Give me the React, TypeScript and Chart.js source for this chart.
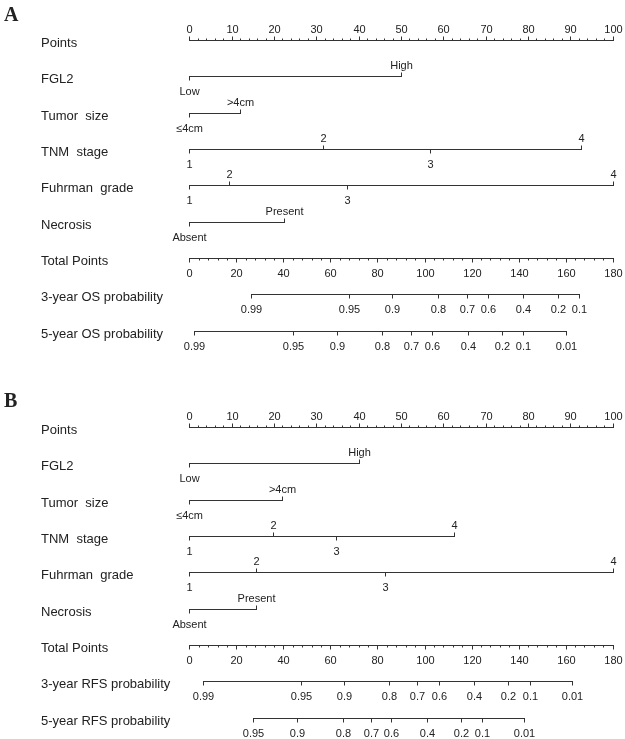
import React, { useEffect, useRef } from 'react';
import { Chart, registerables } from 'chart.js';
Chart.register(...registerables);

// ---------- data ----------
const pointsTickLabels = [0, 10, 20, 30, 40, 50, 60, 70, 80, 90, 100];
const pointsMinorStep = 2;
const totalTickLabels = [0, 20, 40, 60, 80, 100, 120, 140, 160, 180];
const totalMinorStep = 4;

const rowNamesA = ['Points', 'FGL2', 'Tumor  size', 'TNM  stage', 'Fuhrman  grade', 'Necrosis', 'Total Points', '3-year OS probability', '5-year OS probability'];
const rowNamesB = ['Points', 'FGL2', 'Tumor  size', 'TNM  stage', 'Fuhrman  grade', 'Necrosis', 'Total Points', '3-year RFS probability', '5-year RFS probability'];

const levelsFGL2 = ['Low', 'High'];
const levelsTumor = ['≤4cm', '>4cm'];
const levelsStage = ['1', '2', '3', '4'];
const levelsGrade = ['1', '2', '3', '4'];
const levelsNecrosis = ['Absent', 'Present'];

// Panel A (OS) points per level
const ptsFGL2A = [0, 50];
const ptsTumorA = [0, 12];
const ptsStageA = [0, 31.5, 56.8, 92.4];
const ptsGradeA = [0, 9.4, 37.3, 100];
const ptsNecrosisA = [0, 22.3];

// Panel B (RFS) points per level
const ptsFGL2B = [0, 40];
const ptsTumorB = [0, 21.8];
const ptsStageB = [0, 19.7, 34.6, 62.4];
const ptsGradeB = [0, 15.8, 46.2, 100];
const ptsNecrosisB = [0, 15.8];

// probability scales (total points where each probability sits)
const probLabelsOS3 = ['0.99', '0.95', '0.9', '0.8', '0.7', '0.6', '0.4', '0.2', '0.1'];
const totalOS3 = [26.1, 67.9, 86.3, 105.9, 118.2, 127.1, 142.0, 156.6, 165.8];
const probLabelsOS5 = ['0.99', '0.95', '0.9', '0.8', '0.7', '0.6', '0.4', '0.2', '0.1', '0.01'];
const totalOS5 = [2.1, 44.2, 62.7, 82.0, 94.3, 103.3, 118.6, 132.8, 142.0, 160.1];
const probLabelsRFS3 = ['0.99', '0.95', '0.9', '0.8', '0.7', '0.6', '0.4', '0.2', '0.1', '0.01'];
const totalRFS3 = [5.7, 47.4, 65.8, 85.0, 96.9, 106.2, 121.2, 135.6, 144.8, 162.6];
const probLabelsRFS5 = ['0.95', '0.9', '0.8', '0.7', '0.6', '0.4', '0.2', '0.1', '0.01'];
const totalRFS5 = [27.2, 45.9, 65.2, 77.1, 85.9, 101.2, 115.5, 124.6, 142.4];

// ---------- layout ----------
const W = 625;
const H = 739;
const PANEL_B_ROW_OFFSET = 10.644;
const LINE = '#333333';
const TEXT = '#222222';
const SANS = '"Liberation Sans", Arial, sans-serif';

const panels = [
  {
    title: 'A',
    offset: 0,
    names: rowNamesA,
    predictors: [
      [levelsFGL2, ptsFGL2A],
      [levelsTumor, ptsTumorA],
      [levelsStage, ptsStageA],
      [levelsGrade, ptsGradeA],
      [levelsNecrosis, ptsNecrosisA],
    ],
    probs: [
      [probLabelsOS3, totalOS3],
      [probLabelsOS5, totalOS5],
    ],
  },
  {
    title: 'B',
    offset: PANEL_B_ROW_OFFSET,
    names: rowNamesB,
    predictors: [
      [levelsFGL2, ptsFGL2B],
      [levelsTumor, ptsTumorB],
      [levelsStage, ptsStageB],
      [levelsGrade, ptsGradeB],
      [levelsNecrosis, ptsNecrosisB],
    ],
    probs: [
      [probLabelsRFS3, totalRFS3],
      [probLabelsRFS5, totalRFS5],
    ],
  },
];

const nomogramPlugin = {
  id: 'nomogram',
  afterDraw(chart: any) {
    const ctx = chart.ctx as CanvasRenderingContext2D;
    const xs = chart.scales.x;
    const xt = chart.scales.xt;
    const ys = chart.scales.y;
    const crisp = (v: number) => Math.round(v) + 0.5;
    const px = (v: number) => crisp(xs.getPixelForValue(v));
    const pt = (v: number) => crisp(xt.getPixelForValue(v));
    const py = (r: number) => crisp(ys.getPixelForValue(r));

    ctx.save();
    ctx.strokeStyle = LINE;
    ctx.lineWidth = 1;
    ctx.fillStyle = TEXT;

    const hline = (x1: number, x2: number, y: number) => {
      ctx.beginPath();
      ctx.moveTo(x1 - 0.5, y);
      ctx.lineTo(x2 + 0.5, y);
      ctx.stroke();
    };
    const vtick = (x: number, y: number, len: number) => {
      ctx.beginPath();
      ctx.moveTo(x, y);
      ctx.lineTo(x, y + len);
      ctx.stroke();
    };
    const label = (s: string, x: number, y: number, below: boolean) => {
      ctx.font = `11px ${SANS}`;
      ctx.textAlign = 'center';
      ctx.textBaseline = 'alphabetic';
      ctx.fillText(s, x, below ? y + 18.5 : y - 7.5);
    };

    panels.forEach((p) => {
      const rowY = (i: number) => py(p.offset + i);
      // title
      ctx.font = `bold 20px "Liberation Serif", "Times New Roman", serif`;
      ctx.textAlign = 'left';
      ctx.textBaseline = 'alphabetic';
      const titleY = ys.getPixelForValue(p.offset) - 19.5;
      ctx.fillText(p.title, 4, titleY);

      // row names
      ctx.font = `13px ${SANS}`;
      p.names.forEach((n, i) => {
        ctx.textAlign = 'left';
        ctx.fillText(n, 41, ys.getPixelForValue(p.offset + i) + 7);
      });

      // Points axis
      const y0 = rowY(0);
      hline(px(0), px(100), y0);
      for (let v = 0; v <= 100; v += pointsMinorStep) {
        const major = pointsTickLabels.includes(v);
        vtick(px(v), y0, major ? -4 : -2);
      }
      pointsTickLabels.forEach((v) => label(String(v), px(v), y0, false));

      // predictors
      p.predictors.forEach(([levels, pts], k) => {
        const y = rowY(k + 1);
        const vals = pts as number[];
        hline(px(Math.min(...vals)), px(Math.max(...vals)), y);
        (levels as string[]).forEach((lv, j) => {
          const below = j % 2 === 0;
          const x = px(vals[j]);
          vtick(x, y, below ? 4 : -4);
          label(lv, x, y, below);
        });
      });

      // Total points axis
      const yt = rowY(6);
      hline(pt(0), pt(180), yt);
      for (let v = 0; v <= 180; v += totalMinorStep) {
        const major = totalTickLabels.includes(v);
        vtick(pt(v), yt, major ? 4 : 2);
      }
      totalTickLabels.forEach((v) => label(String(v), pt(v), yt, true));

      // probability axes
      p.probs.forEach(([labs, vals], k) => {
        const y = rowY(7 + k);
        const tv = vals as number[];
        hline(pt(Math.min(...tv)), pt(Math.max(...tv)), y);
        (labs as string[]).forEach((s, j) => {
          const x = pt(tv[j]);
          vtick(x, y, 4);
          label(s, x, y, true);
        });
      });
    });
    ctx.restore();
  },
};

export default function App() {
  const ref = useRef<HTMLCanvasElement>(null);
  useEffect(() => {
    document.body.style.margin = '0';
    const canvas = ref.current!;
    const chart = new Chart(canvas, {
      type: 'line',
      data: { datasets: [] },
      options: {
        responsive: false,
        animation: false,
        devicePixelRatio: 1,
        layout: { padding: { left: 189.3, right: 12.3, top: 40, bottom: 21.3 } },
        plugins: { legend: { display: false }, tooltip: { enabled: false } },
        scales: {
          x: { type: 'linear', min: 0, max: 100, display: false },
          xt: { type: 'linear', axis: 'x', min: 0, max: 180, display: false },
          y: { type: 'linear', min: 0, max: 18.644, reverse: true, display: false },
        },
      },
      plugins: [nomogramPlugin],
    } as any);
    return () => chart.destroy();
  }, []);
  return (
    <div style={{ position: 'absolute', left: 0, top: 0, width: W, height: H, background: '#fff' }}>
      <canvas ref={ref} width={W} height={H} style={{ display: 'block', width: W, height: H }} />
    </div>
  );
}
